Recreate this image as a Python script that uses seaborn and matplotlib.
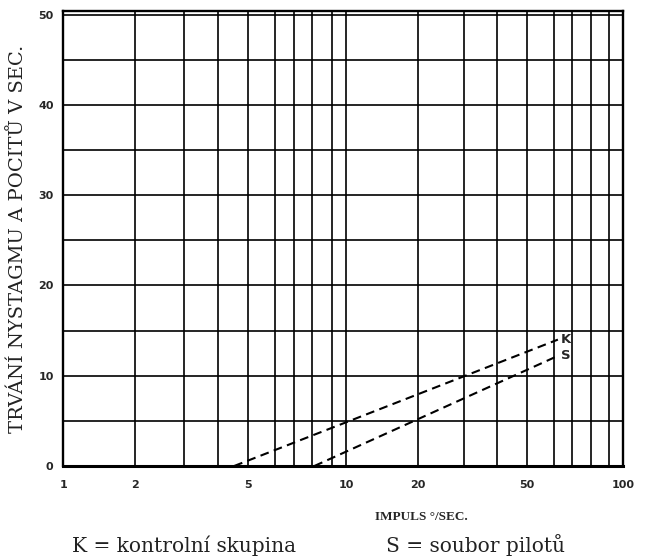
import numpy as np
import pandas as pd
import matplotlib
matplotlib.use("Agg")
import matplotlib.pyplot as plt
from matplotlib.ticker import FixedLocator, NullFormatter, FixedFormatter
import seaborn as sns

# --- data -------------------------------------------------------------
series = ["K", "S"]
k_impuls = [4.5, 62.0]
k_trvani = [0.0, 14.0]
s_impuls = [8.1, 62.0]
s_trvani = [0.0, 12.2]

x_labels = ["1", "2", "5", "10", "20", "50", "100"]
y_ticks = [0, 10, 20, 30, 40, 50]
legend_k = "K = kontrolní skupina"
legend_s = "S = soubor pilotů"

# --- ruling of the printed logarithmic paper (value -> fraction of width)
rule_vals = np.array([1, 2, 3, 4, 5, 6, 7, 8, 9, 10,
                      20, 30, 40, 50, 60, 70, 80, 90, 100], dtype=float)
rule_frac = (np.array([63.3, 135.0, 183.7, 218.3, 248.3, 275.0, 293.7, 312.3,
                       331.7, 346.0, 418.3, 464.0, 497.3, 527.3, 554.0, 572.3,
                       590.7, 608.7, 623.0]) - 63.3) / (623.0 - 63.3)
rule_log = np.log10(rule_vals)


def _interp_ext(x, xp, fp):
    x = np.asarray(x, dtype=float)
    y = np.interp(x, xp, fp)
    lo = x < xp[0]
    hi = x > xp[-1]
    y = np.where(lo, fp[0] + (x - xp[0]) * (fp[1] - fp[0]) / (xp[1] - xp[0]), y)
    y = np.where(hi, fp[-1] + (x - xp[-1]) * (fp[-1] - fp[-2]) / (xp[-1] - xp[-2]), y)
    return y


def paper_fwd(v):
    v = np.clip(np.asarray(v, dtype=float), 1e-6, None)
    return _interp_ext(np.log10(v), rule_log, rule_frac)


def paper_inv(f):
    return 10 ** _interp_ext(f, rule_frac, rule_log)


df = pd.DataFrame({
    "skupina": ["K"] * len(k_impuls) + ["S"] * len(s_impuls),
    "impuls": k_impuls + s_impuls,
    "trvani": k_trvani + s_trvani,
})

# --- figure -----------------------------------------------------------
sns.set_theme(style="white")
plt.rcParams["font.family"] = ["DejaVu Serif", "DejaVu Sans"]

fig = plt.figure(figsize=(6.48, 5.58), dpi=100)
ax = fig.add_axes([63.3 / 648, 1 - 466 / 558, (623 - 63.3) / 648, (466 - 11) / 558])
ax.set_xscale("function", functions=(paper_fwd, paper_inv))

for name in series:
    sub = df[df["skupina"] == name]
    sns.lineplot(data=sub, x="impuls", y="trvani", ax=ax, color="black",
                 linewidth=1.5, dashes=False, estimator=None, sort=False,
                 legend=False)
for line in ax.get_lines():
    line.set_linestyle((0, (4.2, 2.6)))

# labels at the line ends
for name, xs, ys in (("K", k_impuls, k_trvani), ("S", s_impuls, s_trvani)):
    ax.annotate(name, (xs[-1], ys[-1]), xytext=(2, 0), textcoords="offset points",
                ha="left", va="center", fontsize=9.5, fontweight="bold",
                family="DejaVu Sans")

ax.set_xlim(1, 100)
ax.set_ylim(0, 50.4)

major_x = [float(v) for v in x_labels]
ax.xaxis.set_major_locator(FixedLocator(major_x))
ax.xaxis.set_major_formatter(FixedFormatter(x_labels))
ax.xaxis.set_minor_locator(FixedLocator([v for v in rule_vals if v not in major_x]))
ax.xaxis.set_minor_formatter(NullFormatter())
ax.yaxis.set_major_locator(FixedLocator(y_ticks))
ax.yaxis.set_minor_locator(FixedLocator(np.arange(5, 50, 10)))

ax.grid(True, which="both", axis="both", color="black", linewidth=1.2)
ax.tick_params(which="both", length=0)
ax.tick_params(axis="x", pad=10, labelsize=8)
ax.tick_params(axis="y", pad=7, labelsize=8)
for lab in ax.get_xticklabels() + ax.get_yticklabels():
    lab.set_fontweight("bold")
    lab.set_family("DejaVu Sans")

for sp in ax.spines.values():
    sp.set_color("black")
    sp.set_linewidth(1.7)
ax.spines["bottom"].set_linewidth(2.2)

ax.set_xlabel("")
ax.set_ylabel("TRVÁNÍ NYSTAGMU A POCITŮ V SEC.", fontsize=14, color="#222222")
ax.yaxis.set_label_coords(-0.064, 0.5)

fig.text(421 / 648, 1 - 517 / 558, "IMPULS °/SEC.", ha="center", va="center",
         fontsize=9.5, fontweight="bold", family="Liberation Serif")
fig.text(72 / 648, 1 - 552 / 558, legend_k, ha="left", va="baseline", fontsize=14.5,
         color="#222222")
fig.text(386 / 648, 1 - 552 / 558, legend_s, ha="left", va="baseline", fontsize=14.5,
         color="#222222")

fig.savefig("out.png", dpi=100)
